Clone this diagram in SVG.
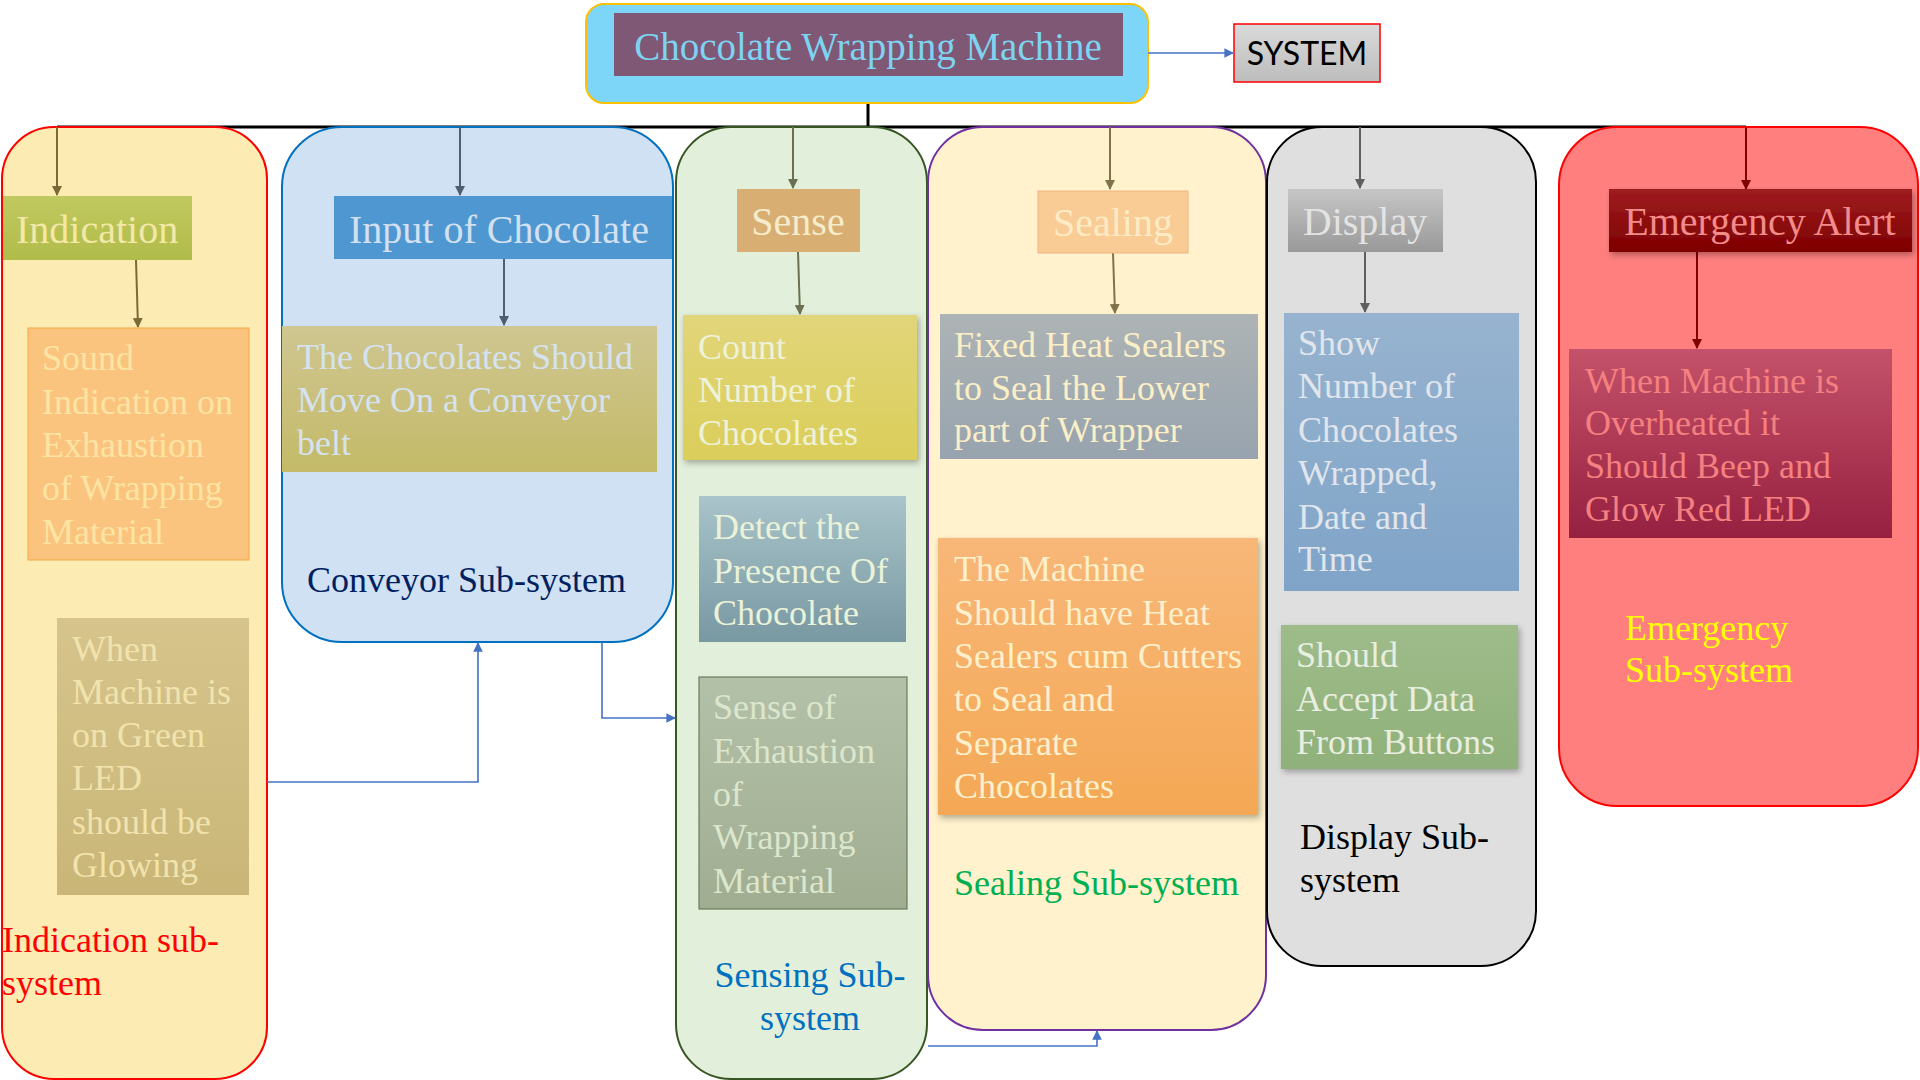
<svg xmlns="http://www.w3.org/2000/svg" width="1920" height="1080" viewBox="0 0 1920 1080">
<style>
text{font-family:"Liberation Serif","Times New Roman",serif;}
.hd{font-size:40px;}
.bt{font-size:36px;}
.lbl{font-size:36px;}
.ln{fill:none;stroke-width:2;}
.blu{fill:none;stroke:#4472C4;stroke-width:1.6;}
</style>
<defs>
<marker id="aOl" viewBox="0 0 10 10" refX="9" refY="5" markerWidth="5" markerHeight="5" orient="auto"><path d="M0,0L10,5L0,10z" fill="#7A6A38"/></marker>
<marker id="aSl" viewBox="0 0 10 10" refX="9" refY="5" markerWidth="5" markerHeight="5" orient="auto"><path d="M0,0L10,5L0,10z" fill="#4F5E6E"/></marker>
<marker id="aGr" viewBox="0 0 10 10" refX="9" refY="5" markerWidth="5" markerHeight="5" orient="auto"><path d="M0,0L10,5L0,10z" fill="#6B7050"/></marker>
<marker id="aBr" viewBox="0 0 10 10" refX="9" refY="5" markerWidth="5" markerHeight="5" orient="auto"><path d="M0,0L10,5L0,10z" fill="#7F7449"/></marker>
<marker id="aGy" viewBox="0 0 10 10" refX="9" refY="5" markerWidth="5" markerHeight="5" orient="auto"><path d="M0,0L10,5L0,10z" fill="#5F5F5F"/></marker>
<marker id="aRd" viewBox="0 0 10 10" refX="9" refY="5" markerWidth="5" markerHeight="5" orient="auto"><path d="M0,0L10,5L0,10z" fill="#7F0000"/></marker>
<marker id="aBl" viewBox="0 0 10 10" refX="9" refY="5" markerWidth="6" markerHeight="6" orient="auto"><path d="M0,0L10,5L0,10z" fill="#4472C4"/></marker>
<linearGradient id="gInd" x1="0" y1="0" x2="0" y2="1"><stop offset="0" stop-color="#C0C95F"/><stop offset="1" stop-color="#B0BC4A"/></linearGradient>
<linearGradient id="gWhen" x1="0" y1="0" x2="0" y2="1"><stop offset="0" stop-color="#D6C48C"/><stop offset="1" stop-color="#C9B677"/></linearGradient>
<linearGradient id="gChoc" x1="0" y1="0" x2="0" y2="1"><stop offset="0" stop-color="#CFC691"/><stop offset="1" stop-color="#C4BA68"/></linearGradient>
<linearGradient id="gCount" x1="0" y1="0" x2="0" y2="1"><stop offset="0" stop-color="#E1D57A"/><stop offset="1" stop-color="#DBCE5A"/></linearGradient>
<linearGradient id="gDet" x1="0" y1="0" x2="0" y2="1"><stop offset="0" stop-color="#A9C4CA"/><stop offset="1" stop-color="#7898A2"/></linearGradient>
<linearGradient id="gSen" x1="0" y1="0" x2="0" y2="1"><stop offset="0" stop-color="#B3C1A9"/><stop offset="1" stop-color="#A0AD91"/></linearGradient>
<linearGradient id="gFix" x1="0" y1="0" x2="0" y2="1"><stop offset="0" stop-color="#AEB4B5"/><stop offset="1" stop-color="#97A3AE"/></linearGradient>
<linearGradient id="gMach" x1="0" y1="0" x2="0" y2="1"><stop offset="0" stop-color="#F8B778"/><stop offset="1" stop-color="#F4A855"/></linearGradient>
<linearGradient id="gDisp" x1="0" y1="0" x2="0" y2="1"><stop offset="0" stop-color="#C6C6C6"/><stop offset="1" stop-color="#999999"/></linearGradient>
<linearGradient id="gShow" x1="0" y1="0" x2="0" y2="1"><stop offset="0" stop-color="#97B3CF"/><stop offset="1" stop-color="#7FA4C8"/></linearGradient>
<linearGradient id="gAcc" x1="0" y1="0" x2="0" y2="1"><stop offset="0" stop-color="#9EBC8A"/><stop offset="1" stop-color="#90B17A"/></linearGradient>
<linearGradient id="gEm" x1="0" y1="0" x2="0" y2="1"><stop offset="0" stop-color="#9E1C20"/><stop offset="1" stop-color="#7E0000"/></linearGradient>
<linearGradient id="gEmB" x1="0" y1="0" x2="0" y2="1"><stop offset="0" stop-color="#C4526A"/><stop offset="1" stop-color="#962040"/></linearGradient>
<linearGradient id="gSys" x1="0" y1="0" x2="0" y2="1"><stop offset="0" stop-color="#DADADA"/><stop offset="1" stop-color="#BDBDBD"/></linearGradient>
<filter id="sh" x="-10%" y="-10%" width="130%" height="130%"><feDropShadow dx="2" dy="3" stdDeviation="3" flood-color="#000" flood-opacity="0.3"/></filter>
</defs>

<g id="connectors-back">
<line x1="57" y1="127" x2="1746" y2="127" stroke="#000" stroke-width="3"/>
<line x1="868" y1="76" x2="868" y2="127" stroke="#000" stroke-width="3"/>
</g>

<g id="title">
<rect x="586" y="4" width="562" height="99" rx="18" fill="#7DD6F7" stroke="#FFC000" stroke-width="2"/>
<rect x="614" y="13" width="509" height="63" fill="#7F5876"/>
<text x="868" y="60" font-size="39" fill="#7DD3F0" text-anchor="middle">Chocolate Wrapping Machine</text>
</g>
<g id="system">
<rect x="1234" y="24" width="146" height="58" fill="url(#gSys)" stroke="#FF0000" stroke-width="1.5"/>
<text x="1307" y="65" font-size="32" fill="#000" text-anchor="middle" style="font-family:Lato,'Liberation Sans',sans-serif">SYSTEM</text>
</g>

<g id="indication-subsystem">
<rect x="2" y="127" width="265" height="952" rx="52" fill="#FDEBB4" stroke="#FF0000" stroke-width="2"/>
</g>
<g id="conveyor-subsystem">
<rect x="282" y="127" width="391" height="515" rx="60" fill="#CFE1F3" stroke="#0070C0" stroke-width="2"/>
</g>
<g id="sensing-subsystem">
<rect x="676" y="127" width="251" height="952" rx="55" fill="#E2EFDA" stroke="#375623" stroke-width="2"/>
</g>
<g id="sealing-subsystem">
<rect x="928" y="127" width="338" height="903" rx="55" fill="#FFF2CC" stroke="#7030A0" stroke-width="2"/>
</g>
<g id="display-subsystem">
<rect x="1267" y="127" width="269" height="839" rx="55" fill="#DFDFDF" stroke="#000" stroke-width="2"/>
</g>
<g id="emergency-subsystem">
<rect x="1559" y="127" width="359" height="679" rx="58" fill="#FF7F7F" stroke="#FF0000" stroke-width="2"/>
</g>

<g id="connectors">
<line class="ln" stroke="#7A6A38" x1="57" y1="127" x2="57" y2="195" marker-end="url(#aOl)"/>
<line class="ln" stroke="#7A6A38" x1="136" y1="260" x2="138" y2="327" marker-end="url(#aOl)"/>
<line class="ln" stroke="#4F5E6E" x1="460" y1="127" x2="460" y2="195" marker-end="url(#aSl)"/>
<line class="ln" stroke="#4F5E6E" x1="504" y1="259" x2="504" y2="325" marker-end="url(#aSl)"/>
<line class="ln" stroke="#6B7050" x1="793" y1="127" x2="793" y2="188" marker-end="url(#aGr)"/>
<line class="ln" stroke="#6B7050" x1="798" y1="252" x2="800" y2="314" marker-end="url(#aGr)"/>
<line class="ln" stroke="#7F7449" x1="1110" y1="127" x2="1110" y2="189" marker-end="url(#aBr)"/>
<line class="ln" stroke="#7F7449" x1="1113" y1="253" x2="1115" y2="313" marker-end="url(#aBr)"/>
<line class="ln" stroke="#5F5F5F" x1="1360" y1="127" x2="1360" y2="188" marker-end="url(#aGy)"/>
<line class="ln" stroke="#5F5F5F" x1="1365" y1="252" x2="1365" y2="312" marker-end="url(#aGy)"/>
<line class="ln" stroke="#7F0000" x1="1746" y1="127" x2="1746" y2="189" marker-end="url(#aRd)"/>
<line class="ln" stroke="#7F0000" x1="1697" y1="252" x2="1697" y2="348" marker-end="url(#aRd)"/>
<line class="blu" x1="1148" y1="53" x2="1233" y2="53" marker-end="url(#aBl)"/>
<polyline class="blu" points="267,782 478,782 478,643" marker-end="url(#aBl)"/>
<polyline class="blu" points="602,642 602,718 675,718" marker-end="url(#aBl)"/>
<polyline class="blu" points="928,1046 1097,1046 1097,1031" marker-end="url(#aBl)"/>
</g>

<g id="indication">
<rect x="3" y="196" width="189" height="64" fill="url(#gInd)"/>
<text class="hd" x="16" y="243" fill="#F3E8A8">Indication</text>
</g>
<g id="sound-indication">
<rect x="28" y="328" width="221" height="232" fill="#FAC47E" stroke="#F5A742" stroke-width="1"/>
<text class="bt" fill="#FCE4A4"><tspan x="42" y="370">Sound</tspan><tspan x="42" y="414">Indication on</tspan><tspan x="42" y="457">Exhaustion</tspan><tspan x="42" y="500">of Wrapping</tspan><tspan x="42" y="544">Material</tspan></text>
</g>
<g id="green-led">
<rect x="57" y="618" width="192" height="277" fill="url(#gWhen)"/>
<text class="bt" fill="#F1E3AE"><tspan x="72" y="661">When</tspan><tspan x="72" y="704">Machine is</tspan><tspan x="72" y="747">on Green</tspan><tspan x="72" y="790">LED</tspan><tspan x="72" y="834">should be</tspan><tspan x="72" y="877">Glowing</tspan></text>
</g>
<text class="lbl" fill="#FF0000"><tspan x="2" y="952">Indication sub-</tspan><tspan x="2" y="995">system</tspan></text>

<g id="input-of-chocolate">
<rect x="334" y="196" width="338" height="63" fill="#4F97D0"/>
<text class="hd" x="349" y="243" fill="#D3E0F0">Input of Chocolate</text>
</g>
<g id="conveyor-belt">
<rect x="282" y="326" width="375" height="146" fill="url(#gChoc)"/>
<text class="bt" fill="#D5E3F0"><tspan x="297" y="369">The Chocolates Should</tspan><tspan x="297" y="412">Move On a Conveyor</tspan><tspan x="297" y="455">belt</tspan></text>
</g>
<text class="lbl" x="307" y="592" fill="#002060">Conveyor Sub-system</text>

<g id="sense">
<rect x="737" y="189" width="123" height="63" fill="#D8AE72"/>
<text class="hd" x="798" y="235" fill="#F4ECCB" text-anchor="middle">Sense</text>
</g>
<g id="count">
<rect x="683" y="315" width="234" height="145" fill="url(#gCount)" filter="url(#sh)"/>
<text class="bt" fill="#EEF2D8"><tspan x="698" y="359">Count</tspan><tspan x="698" y="402">Number of</tspan><tspan x="698" y="445">Chocolates</tspan></text>
</g>
<g id="detect">
<rect x="699" y="496" width="207" height="146" fill="url(#gDet)"/>
<text class="bt" fill="#EAF2D8"><tspan x="713" y="539">Detect the</tspan><tspan x="713" y="583">Presence Of</tspan><tspan x="713" y="625">Chocolate</tspan></text>
</g>
<g id="sense-exhaustion">
<rect x="699" y="677" width="208" height="232" fill="url(#gSen)" stroke="#6B7B5E" stroke-width="1.2"/>
<text class="bt" fill="#DCE6CC"><tspan x="713" y="719">Sense of</tspan><tspan x="713" y="763">Exhaustion</tspan><tspan x="713" y="806">of</tspan><tspan x="713" y="849">Wrapping</tspan><tspan x="713" y="893">Material</tspan></text>
</g>
<text class="lbl" fill="#0070C0" text-anchor="middle"><tspan x="810" y="987">Sensing Sub-</tspan><tspan x="810" y="1030">system</tspan></text>

<g id="sealing">
<rect x="1038" y="191" width="150" height="62" fill="#F9CB95" stroke="#F4B183" stroke-width="1"/>
<text class="hd" x="1113" y="236" fill="#FCEBC4" text-anchor="middle">Sealing</text>
</g>
<g id="fixed-heat-sealers">
<rect x="940" y="314" width="318" height="145" fill="url(#gFix)"/>
<text class="bt" fill="#FBEFC7"><tspan x="954" y="357">Fixed Heat Sealers</tspan><tspan x="954" y="400">to Seal the Lower</tspan><tspan x="954" y="442">part of Wrapper</tspan></text>
</g>
<g id="sealers-cutters">
<rect x="938" y="538" width="320" height="277" fill="url(#gMach)" filter="url(#sh)"/>
<text class="bt" fill="#FDF0CC"><tspan x="954" y="581">The Machine</tspan><tspan x="954" y="625">Should have Heat</tspan><tspan x="954" y="668">Sealers cum Cutters</tspan><tspan x="954" y="711">to Seal and</tspan><tspan x="954" y="755">Separate</tspan><tspan x="954" y="798">Chocolates</tspan></text>
</g>
<text class="lbl" x="954" y="895" fill="#00B050">Sealing Sub-system</text>

<g id="display">
<rect x="1288" y="189" width="155" height="63" fill="url(#gDisp)"/>
<text class="hd" x="1365" y="235" fill="#E3E3E3" text-anchor="middle">Display</text>
</g>
<g id="show-number">
<rect x="1284" y="313" width="235" height="278" fill="url(#gShow)"/>
<text class="bt" fill="#E1E6EC"><tspan x="1298" y="355">Show</tspan><tspan x="1298" y="398">Number of</tspan><tspan x="1298" y="442">Chocolates</tspan><tspan x="1298" y="485">Wrapped,</tspan><tspan x="1298" y="529">Date and</tspan><tspan x="1298" y="571">Time</tspan></text>
</g>
<g id="accept-data">
<rect x="1281" y="625" width="237" height="144" fill="url(#gAcc)" filter="url(#sh)"/>
<text class="bt" fill="#E8EEE0"><tspan x="1296" y="667">Should</tspan><tspan x="1296" y="711">Accept Data</tspan><tspan x="1296" y="754">From Buttons</tspan></text>
</g>
<text class="lbl" fill="#000"><tspan x="1300" y="849">Display Sub-</tspan><tspan x="1300" y="892">system</tspan></text>

<g id="emergency-alert">
<rect x="1609" y="189" width="303" height="63" fill="url(#gEm)" filter="url(#sh)"/>
<text class="hd" x="1760" y="235" fill="#F28B8B" text-anchor="middle">Emergency Alert</text>
</g>
<g id="overheat">
<rect x="1569" y="349" width="323" height="189" fill="url(#gEmB)"/>
<text class="bt" fill="#F48080"><tspan x="1585" y="393">When Machine is</tspan><tspan x="1585" y="435">Overheated it</tspan><tspan x="1585" y="478">Should Beep and</tspan><tspan x="1585" y="521">Glow Red LED</tspan></text>
</g>
<text class="lbl" fill="#FFFF00"><tspan x="1625" y="640">Emergency</tspan><tspan x="1625" y="682">Sub-system</tspan></text>
</svg>
